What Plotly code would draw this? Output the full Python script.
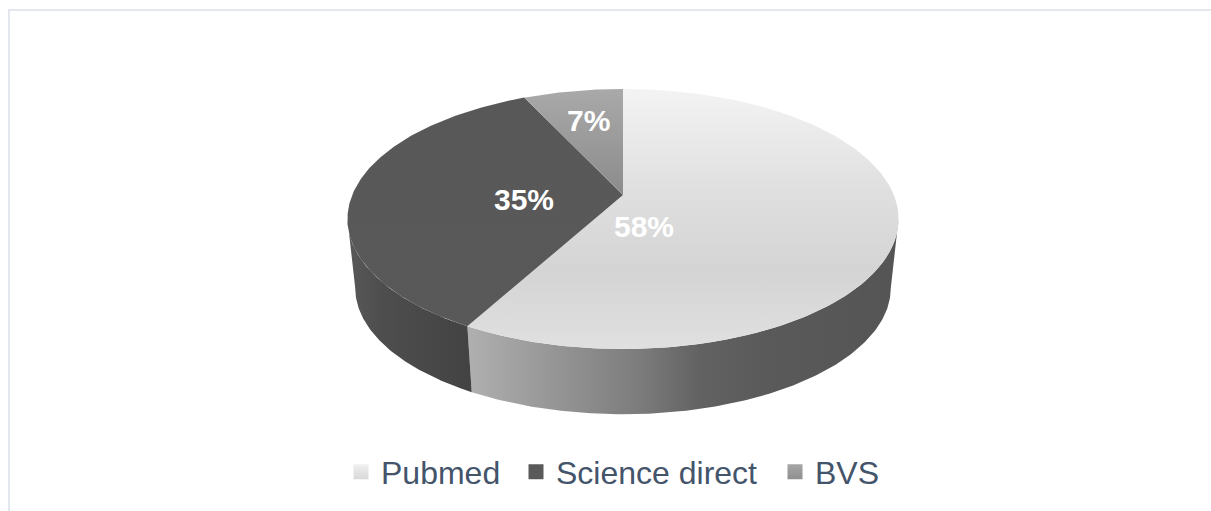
import numpy as np
import plotly.graph_objects as go

# Chart data
categories = ["Pubmed", "Science direct", "BVS"]
shares = [58, 35, 7]
share_labels = ["58%", "35%", "7%"]

W, H = 1211, 511

# Tilted disc: a projective view of a unit circle, hub at (HUB_X, HUB_Y)
HUB_X, HUB_Y = 623.0, 195.0
TILT = 0.1846         # foreshortening of back versus front
SCALE_Y = 125.6
SCALE_X = 270.8
WALL_SCALE = 0.972    # lower rim is slightly smaller, being further from the eye
WALL_DROP = 69.5


def rim(theta, scale=1.0, drop=0.0):
    """Project clockwise-from-top angles onto the drawing plane."""
    u, v = np.sin(theta), np.cos(theta)
    den = 1 + TILT * v
    return HUB_X + scale * SCALE_X * u / den, HUB_Y + drop - scale * SCALE_Y * v / den


def arc(a, b, n=160):
    return np.linspace(a, b, n)


fractions = np.array(shares) / sum(shares)
edges = np.concatenate([[0], np.cumsum(fractions)]) * 2 * np.pi

# Silhouette angles: the wall is only visible between these
front_start = np.arccos(-TILT)
front_end = 2 * np.pi - front_start

top_fills = [
    dict(type="vertical", start=89, stop=349,
         colorscale=[[0, "#f3f3f3"], [0.4, "#dfdfdf"], [0.7, "#d4d4d4"], [1, "#e0e0e0"]]),
    dict(type="vertical", start=89, stop=349,
         colorscale=[[0, "#585858"], [1, "#595959"]]),
    dict(type="vertical", start=89, stop=196,
         colorscale=[[0, "#a9a9a9"], [1, "#8b8b8b"]]),
]
wall_fills = [
    dict(type="horizontal", start=466, stop=890,
         colorscale=[[0, "#b0b0b0"], [0.41, "#7c7c7c"], [0.55, "#626262"],
                     [0.7, "#5a5a5a"], [1, "#555555"]]),
    dict(type="horizontal", start=350, stop=470,
         colorscale=[[0, "#585858"], [0.25, "#4e4e4e"], [1, "#434343"]]),
    None,
]

fig = go.Figure()

# Outer walls first so the top faces sit over them
for i in range(3):
    a = max(edges[i], front_start)
    b = min(edges[i + 1], front_end)
    if a >= b:
        continue
    th = arc(a, b)
    x0, y0 = rim(th)
    x1, y1 = rim(th[::-1], WALL_SCALE, WALL_DROP)
    fig.add_trace(go.Scatter(
        x=np.r_[x0, x1, x0[0]], y=np.r_[y0, y1, y0[0]],
        mode="lines", line=dict(width=0), fill="toself",
        fillgradient=wall_fills[i], showlegend=False, hoverinfo="skip",
    ))

# Top faces
for i in range(3):
    x, y = rim(arc(edges[i], edges[i + 1]))
    fig.add_trace(go.Scatter(
        x=np.r_[HUB_X, x, HUB_X], y=np.r_[HUB_Y, y, HUB_Y],
        mode="lines", line=dict(width=0), fill="toself",
        fillgradient=top_fills[i], showlegend=False, hoverinfo="skip",
    ))

# One legend per entry, so each can sit at its own spacing along the row
swatch_tops = ["#f0f0f0", "#5a5a5a", "#a6a6a6"]
swatch_ends = ["#d8d8d8", "#5a5a5a", "#8f8f8f"]
legend_ids = ["legend", "legend2", "legend3"]
legend_left = [341, 516, 775]
for name, top, end, lid in zip(categories, swatch_tops, swatch_ends, legend_ids):
    fig.add_trace(go.Scatter(
        x=[None], y=[None], mode="markers", name=name, legend=lid, showlegend=True,
        marker=dict(symbol="square", size=15, color=top,
                    gradient=dict(type="vertical", color=end)),
    ))

legend_style = {
    lid: dict(
        orientation="h", x=left / W, y=1 - 472 / H, xanchor="left", yanchor="middle",
        font=dict(family="Liberation Sans", size=32, color="#44546a"),
        itemwidth=30, bgcolor="rgba(0,0,0,0)",
    )
    for lid, left in zip(legend_ids, legend_left)
}

# Percentage labels
label_xy = [(644, 226), (524, 199), (588, 120)]
annotations = [
    dict(x=px, y=py, text=t, showarrow=False, xanchor="center", yanchor="middle",
         font=dict(family="Liberation Sans", size=30, color="white", weight="bold"))
    for (px, py), t in zip(label_xy, share_labels)
]

# Thin frame along the top and left edges
frame_color = "#e4e7ed"
shapes = [
    dict(type="line", xref="x", yref="y", x0=8, x1=W, y0=10, y1=10, line=dict(color=frame_color, width=2)),
    dict(type="line", xref="x", yref="y", x0=9, x1=9, y0=10, y1=H, line=dict(color=frame_color, width=2)),
]

fig.update_layout(
    width=W, height=H, margin=dict(l=0, r=0, t=0, b=0),
    paper_bgcolor="white", plot_bgcolor="white",
    xaxis=dict(range=[0, W], visible=False, fixedrange=True),
    yaxis=dict(range=[H, 0], visible=False, fixedrange=True),
    annotations=annotations, shapes=shapes,
    **legend_style,
)

fig.write_html("out.html")
